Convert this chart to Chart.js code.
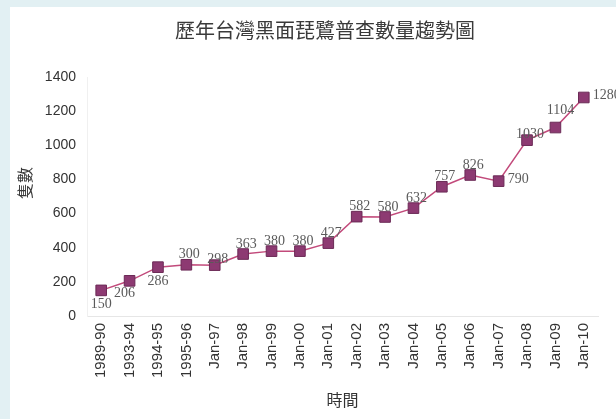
<!DOCTYPE html>
<html>
<head>
<meta charset="utf-8">
<script src="https://cdn.jsdelivr.net/npm/chart.js@4"></script>
<style>
  html, body { margin: 0; padding: 0; background: #fff; }
  #wrap { position: relative; width: 616px; height: 419px; }
  .edge { position: absolute; background: #e2f0f3; }
  #edgeLeft { left: 0; top: 0; width: 10px; height: 419px; }
  #edgeTop { left: 0; top: 0; width: 616px; height: 7px; }
  canvas { position: absolute; left: 0; top: 0; }
</style>
</head>
<body>
<div id="wrap">
  <div class="edge" id="edgeLeft"></div>
  <div class="edge" id="edgeTop"></div>
  <canvas id="lineChart" width="616" height="419"></canvas>
</div>
<script>
const chartTitle = "歷年台灣黑面琵鷺普查數量趨勢圖";
const xTitle = "時間";
const yTitle = "隻數";

const years = [
    "1989-90", "1993-94", "1994-95", "1995-96", "Jan-97", "Jan-98",
    "Jan-99", "Jan-00", "Jan-01", "Jan-02", "Jan-03", "Jan-04",
    "Jan-05", "Jan-06", "Jan-07", "Jan-08", "Jan-09", "Jan-10"
];
const counts = [150, 206, 286, 300, 298, 363, 380, 380, 427, 582, 580, 632, 757, 826, 790, 1030, 1104, 1280];

// where each value label sits relative to its marker
const labelSide = [
    "below", "belowLeft", "below", "above", "aboveNear", "above",
    "above", "above", "above", "above", "above", "above",
    "above", "above", "right", "aboveNear", "aboveFar", "right"
];

const labelOffsets = {
    below: { dx: 0, dy: 14, align: "center" },
    belowLeft: { dx: -5, dy: 12, align: "center" },
    above: { dx: 3, dy: -10, align: "center" },
    aboveNear: { dx: 3, dy: -6, align: "center" },
    aboveFar: { dx: 5, dy: -17, align: "center" },
    right: { dx: 9, dy: -2, align: "left" }
};

const valueLabels = {
    id: "valueLabels",
    afterDatasetsDraw(chart) {
        const ctx = chart.ctx;
        const points = chart.getDatasetMeta(0).data;
        ctx.save();
        ctx.font = "14px 'Liberation Serif', serif";
        ctx.fillStyle = "#5a5a5a";
        ctx.textBaseline = "middle";
        points.forEach((pt, i) => {
            const o = labelOffsets[labelSide[i]];
            ctx.textAlign = o.align;
            ctx.fillText(String(counts[i]), pt.x + o.dx, pt.y + o.dy);
        });
        ctx.restore();
    }
};

// chart title and the vertical axis title
const titleText = {
    id: "titleText",
    afterDraw(chart) {
        const ctx = chart.ctx;
        ctx.save();
        ctx.font = "20px 'Noto Sans CJK TC', sans-serif";
        ctx.fillStyle = "#3a3a3a";
        ctx.textAlign = "center";
        ctx.textBaseline = "middle";
        ctx.fillText(chartTitle, 325, 30);

        ctx.font = "16px 'Noto Sans CJK TC', sans-serif";
        ctx.translate(25, 183);
        ctx.rotate(-Math.PI / 2);
        ctx.fillText(yTitle, 0, 0);
        ctx.restore();
    }
};

const ctx = document.getElementById("lineChart").getContext("2d");
new Chart(ctx, {
    type: "line",
    data: {
        labels: years,
        datasets: [{
            data: counts,
            borderColor: "#c24a7b",
            borderWidth: 1.5,
            backgroundColor: "#8d3a72",
            pointStyle: "rect",
            pointRadius: 7.5,
            pointBorderColor: "#6b2a56",
            pointBorderWidth: 1,
            tension: 0
        }]
    },
    options: {
        responsive: false,
        animation: false,
        layout: { padding: { top: 77, right: 18, left: 0, bottom: 0 } },
        plugins: {
            legend: { display: false },
            tooltip: { enabled: false }
        },
        scales: {
            x: {
                offset: true,
                grid: { display: false, drawTicks: false },
                border: { color: "#e6e6e6" },
                ticks: {
                    minRotation: 90,
                    maxRotation: 90,
                    padding: 7,
                    color: "#333",
                    font: { family: "'Liberation Sans', Arial, sans-serif", size: 15 }
                },
                title: {
                    display: true,
                    text: xTitle,
                    color: "#333",
                    padding: { top: 0, bottom: 9 },
                    font: { family: "'Noto Sans CJK TC', sans-serif", size: 16 }
                },
                afterFit(scale) { scale.height = 103; }
            },
            y: {
                min: 0,
                max: 1400,
                grid: { display: false, drawTicks: false },
                border: { color: "#f0f0f0" },
                ticks: {
                    stepSize: 200,
                    padding: 11,
                    color: "#333",
                    font: { family: "'Liberation Sans', Arial, sans-serif", size: 14 },
                    callback: (v) => String(v)
                },
                afterFit(scale) { scale.width = 87; }
            }
        }
    },
    plugins: [valueLabels, titleText]
});
</script>
</body>
</html>
